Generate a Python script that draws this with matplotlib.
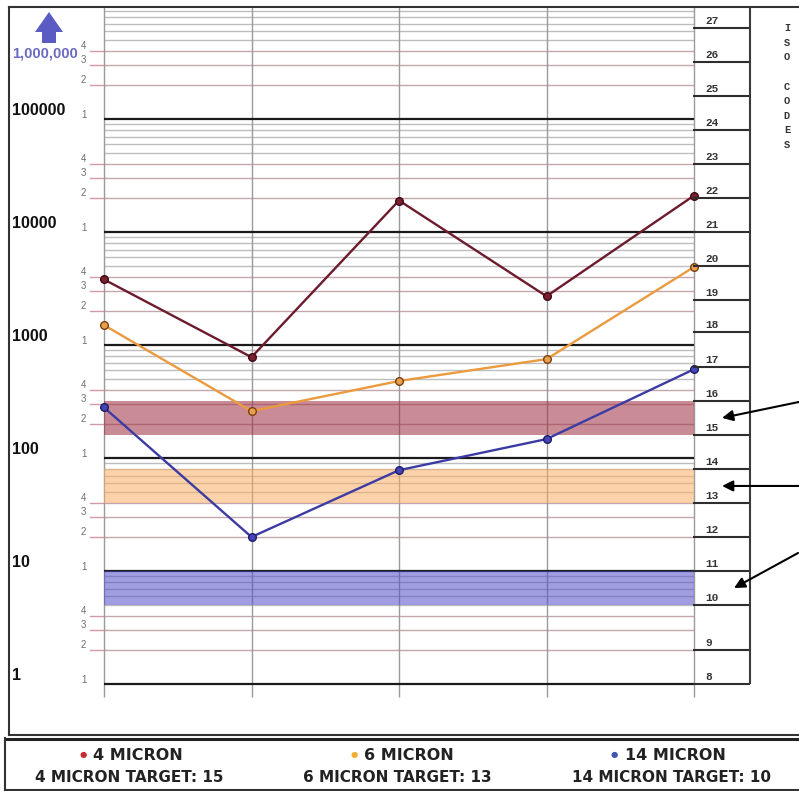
import numpy as np
import matplotlib
matplotlib.use("Agg")
import matplotlib.pyplot as plt
from matplotlib.lines import Line2D
from matplotlib.patches import Polygon

# ---------------- data ----------------
samples = [0, 1, 2, 3, 4]
micron4 = [3800, 780, 19000, 2700, 21000]
micron6 = [1500, 260, 480, 750, 4900]
micron14 = [280, 20, 78, 147, 610]

iso_codes = [8, 9, 10, 11, 12, 13, 14, 15, 16, 17, 18, 19, 20, 21, 22, 23, 24, 25, 26, 27]
iso_bounds = [1, 2, 5, 10, 20, 40, 80, 160, 320, 640, 1300, 2500, 5000, 10000,
              20000, 40000, 80000, 160000, 320000, 640000]

targets = {"4": (15, 160, 320), "6": (13, 40, 80), "14": (10, 5, 10)}
decade_labels = ["1", "10", "100", "1000", "10000", "100000"]
legend_names = ["4 MICRON", "6 MICRON", "14 MICRON"]
legend_targets = ["4 MICRON TARGET: 15", "6 MICRON TARGET: 13", "14 MICRON TARGET: 10"]

# ---------------- layout helpers ----------------
W, H = 799, 791
def fx(px):
    return px / W
def fy(py):
    return 1 - py / H

PPD = 113.0   # pixels per decade
Y1 = 684.0    # pixel row of value 1
TOP, BOT = 7, 697

fig = plt.figure(figsize=(W / 100, H / 100), dpi=100)
fig.patch.set_facecolor("white")

ax = fig.add_axes([fx(104), fy(BOT), fx(694) - fx(104), (BOT - TOP) / H])
ax.set_xlim(0, 4)
ax.set_yscale("log")
ylo, yhi = 10 ** ((Y1 - BOT) / PPD), 10 ** ((Y1 - TOP) / PPD)
ax.set_ylim(ylo, yhi)
ax.axis("off")

ytrans = ax.get_yaxis_transform()

# horizontal grid
for d in range(0, 6):
    for m in range(1, 10):
        v = m * 10 ** d
        if v > yhi:
            continue
        if m == 1:
            ax.hlines(v, 0, 4, color="#1a1a1a", lw=1.6, zorder=1.5)
            ax.annotate("1", xy=(-0.03, v), xycoords=ytrans, xytext=(0, 1),
                        textcoords="offset pixels", ha="right", va="baseline",
                        fontsize=7, color="#6e6e6e", family="Liberation Sans")
        elif m in (2, 3, 4):
            ax.hlines(v, 0, 4, color="#c4a6ad", lw=1.0, zorder=1)
            ax.plot([-0.024, 0], [v, v], transform=ytrans, color="#d49aa4",
                    lw=1.0, clip_on=False, zorder=1)
            ax.annotate(str(m), xy=(-0.03, v), xycoords=ytrans, xytext=(0, 2),
                        textcoords="offset pixels", ha="right", va="baseline",
                        fontsize=7, color="#6e6e6e", family="Liberation Sans")
        else:
            ax.hlines(v, 0, 4, color="#bdbdbd", lw=1.0, zorder=1)

# decade labels on the far left
for i, lab in enumerate(decade_labels):
    ax.annotate(lab, xy=((12 - 104) / 590.0, 10 ** i), xycoords=ytrans,
                xytext=(0, 4), textcoords="offset pixels", ha="left",
                va="baseline", fontsize=11.5, fontweight="bold",
                color="#111111", family="Liberation Sans",
                annotation_clip=False)

# vertical grid
ax.vlines(samples, ylo, yhi, color="#9a9a9a", lw=1.0, zorder=1, clip_on=False)

# target bands
band_cols = {"4": "#9d2e40", "6": "#faad64", "14": "#524fc8"}
for k, (code, lo, hi) in targets.items():
    ax.axhspan(lo, hi, xmin=0, xmax=1, color=band_cols[k], alpha=0.55,
               lw=0, zorder=2)

# series
ax.plot(samples, micron4, color="#6d1b2c", lw=1.7, marker="o", ms=5.5,
        mfc="#7c1f30", mec="#3a0a14", mew=1, zorder=5, clip_on=False)
ax.plot(samples, micron6, color="#eb9b3e", lw=1.7, marker="o", ms=5.5,
        mfc="#e9a04e", mec="#7a3f0e", mew=1, zorder=5, clip_on=False)
ax.plot(samples, micron14, color="#3b3ba3", lw=1.7, marker="o", ms=5.5,
        mfc="#4545b5", mec="#1c1c66", mew=1, zorder=5, clip_on=False)

# ---------------- ISO code scale ----------------
ax2 = fig.add_axes([fx(693), fy(BOT), fx(750) - fx(693), (BOT - TOP) / H])
ax2.set_yscale("log")
ax2.set_ylim(ylo, yhi)
ax2.set_xlim(0, 1)
ax2.axis("off")
ax2.hlines(iso_bounds, 0, 1, color="#2e2e2e", lw=1.5)
ax2.vlines(1, iso_bounds[0], yhi, color="#3a3a3a", lw=1.5, clip_on=False)
y2 = ax2.get_yaxis_transform()
for c, b in zip(iso_codes, iso_bounds):
    ax2.annotate(str(c), xy=(0.21, b), xycoords=y2, xytext=(0, 4),
                 textcoords="offset pixels", ha="left", va="baseline",
                 fontsize=8, fontweight="bold", color="#333333",
                 family="Liberation Mono")

fig.text(fx(787), fy(23), "I\nS\nO\n\nC\nO\nD\nE\nS", ha="center", va="top",
         family="Liberation Mono", fontweight="bold", fontsize=7.5,
         linespacing=1.58, color="#333333")

# arrows pointing at target bands
arrow_specs = [("4", 0.51, (77, 16)), ("6", 0.51, (77, 0)), ("14", 0.72, (64, 35))]
for k, xa, off in arrow_specs:
    code, lo, hi = targets[k]
    ax2.annotate("", xy=(xa, np.sqrt(lo * hi)), xycoords=y2,
                 xytext=off, textcoords="offset pixels",
                 arrowprops=dict(arrowstyle="-|>", color="black", lw=1.5,
                                 mutation_scale=16, shrinkA=0, shrinkB=0),
                 annotation_clip=False)

# ---------------- frame ----------------
def fline(xs, ys, lw=1.5, color="#333333"):
    fig.add_artist(Line2D([fx(x) for x in xs], [fy(y) for y in ys],
                          transform=fig.transFigure, color=color, lw=lw))

fline([9, 9], [7, 735])
fline([9, 799], [7, 7])
fline([9, 799], [735, 735])
fline([5, 799], [738.5, 738.5], lw=2.2, color="#222222")
fline([5, 5], [738, 791], lw=1.5)
fline([5, 799], [790, 790], lw=1.5)

# purple "1,000,000" arrow
arrow_pts = [(49, 12), (63, 32), (56, 32), (56, 43), (42, 43), (42, 32), (35, 32)]
fig.add_artist(Polygon([(fx(x), fy(y)) for x, y in arrow_pts], closed=True,
                       transform=fig.transFigure, color="#5b5bc4", lw=0))
fig.text(fx(12), fy(53), "1,000,000", ha="left", va="center", fontsize=10.5,
         fontweight="bold", color="#6a6ac2", family="Liberation Sans")

# ---------------- legend ----------------
row1_x = [138, 409, 675]
row2_x = [129, 397, 672]
leg_cols = ["#c62a2f", "#f0ae32", "#3e55b2"]
name_texts = []
for x1, x2, name, tgt in zip(row1_x, row2_x, legend_names, legend_targets):
    t = fig.text(fx(x1), fy(755), name, ha="center", va="center",
                 fontsize=11.5, fontweight="bold", color="#222222",
                 family="DejaVu Sans")
    name_texts.append(t)
    fig.text(fx(x2), fy(777), tgt, ha="center", va="center", fontsize=11,
             fontweight="bold", color="#222222", family="DejaVu Sans")

fig.canvas.draw()
renderer = fig.canvas.get_renderer()
for t, col in zip(name_texts, leg_cols):
    bb = t.get_window_extent(renderer)
    fig.text((bb.x0 - 10) / W, fy(755), "\u25CF", ha="center", va="center",
             fontsize=6, color=col, family="DejaVu Sans")

fig.savefig("out.png", dpi=100, facecolor="white")
